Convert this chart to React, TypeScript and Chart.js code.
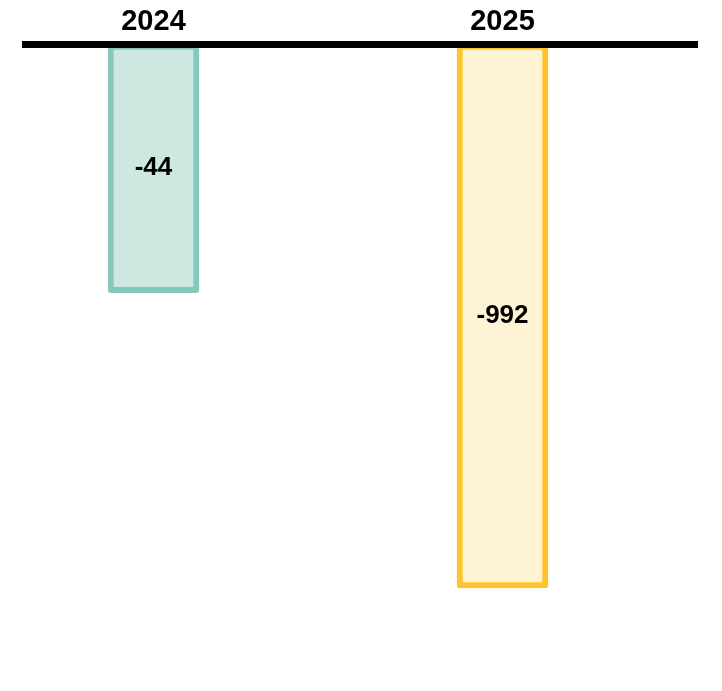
import React, { useEffect, useRef } from "react";
import { Chart, registerables } from "chart.js";

Chart.register(...registerables);

const categories = ["2024", "2025"];
const values = [-44, -992];
const borderColors = ["#85C9BA", "#FFC42B"];
const fillColors = ["#CEE8E1", "#FFF3D6"];

const valueLabels = {
  id: "valueLabels",
  afterDatasetsDraw(chart: any) {
    const ctx = chart.ctx;
    const meta = chart.getDatasetMeta(0);
    ctx.save();
    ctx.font = "bold 26px 'Liberation Sans', sans-serif";
    ctx.fillStyle = "#000";
    ctx.textAlign = "center";
    ctx.textBaseline = "middle";
    meta.data.forEach((bar: any, i: number) => {
      const y = (bar.y + bar.base) / 2;
      ctx.fillText(String(values[i]), bar.x, y);
    });
    ctx.restore();
  },
};

export default function App() {
  const ref = useRef<HTMLCanvasElement | null>(null);
  useEffect(() => {
    if (!ref.current) return;
    const chart = new Chart(ref.current, {
      type: "bar",
      data: {
        datasets: [
          {
            data: values.map((v, i) => ({ x: i, y: Math.abs(v) })),
            backgroundColor: fillColors,
            borderColor: borderColors,
            borderWidth: 6,
            borderRadius: 3,
            borderSkipped: false,
            barThickness: 91,
          },
        ],
      },
      options: {
        responsive: false,
        animation: false,
        layout: { padding: { top: 0, left: 25, right: 25, bottom: 8 } },
        plugins: { legend: { display: false }, tooltip: { enabled: false } },
        scales: {
          x: {
            type: "linear",
            position: "top",
            offset: false,
            bounds: "data",
            min: -0.3682,
            max: 1.5573,
            afterBuildTicks: (s: any) => {
              s.ticks = categories.map((_, i) => ({ value: i }));
            },
            afterFit: (s: any) => {
              s.height = 44;
            },
            grid: { display: false, drawTicks: false },
            border: { display: true, color: "#000", width: 7, z: 1 },
            ticks: {
              padding: 5,
              color: "#000",
              font: { family: "'Liberation Sans', sans-serif", size: 29, weight: "bold" },
              callback: (v: any) => categories[v] ?? "",
              maxRotation: 0,
              autoSkip: false,
            },
          },
          y: {
            type: "logarithmic",
            reverse: true,
            display: false,
            min: 3.2,
            max: 2700,
            bounds: "data",
          },
        },
      },
      plugins: [valueLabels],
    } as any);
    return () => chart.destroy();
  }, []);
  return (
    <canvas
      ref={ref}
      width={722}
      height={691}
      style={{ position: "absolute", left: 0, top: 0, display: "block" }}
    />
  );
}
